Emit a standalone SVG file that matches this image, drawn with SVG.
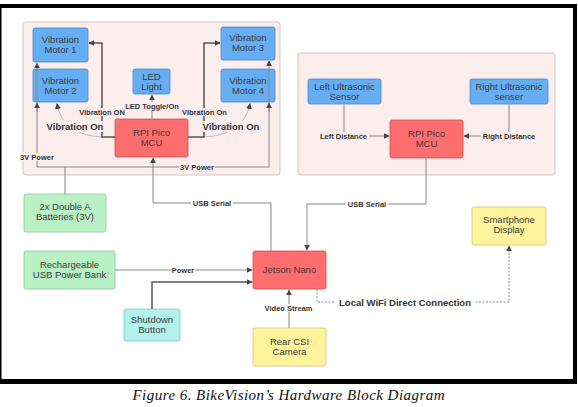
<svg xmlns="http://www.w3.org/2000/svg" width="578" height="407" viewBox="0 0 578 407">
<defs>
<marker id="arr" viewBox="0 0 10 10" refX="9" refY="5" markerWidth="6" markerHeight="6" markerUnits="userSpaceOnUse" orient="auto"><path d="M0,0 L10,5 L0,10 z" fill="#444"/></marker>
<style>
.grp{fill:#fdeeee;stroke:#d3c3c3;stroke-width:1}
.blue{fill:#66aef4;stroke:#4a86c8;stroke-width:0.8}
.red{fill:#ff6e6e;stroke:#c94e4e;stroke-width:0.8}
.green{fill:#b9f0c4;stroke:#8cc79a;stroke-width:0.8}
.cyan{fill:#b3f2ec;stroke:#86c6bf;stroke-width:0.8}
.yellow{fill:#fff49c;stroke:#cfc577;stroke-width:0.8}
.nt{font-family:"Liberation Sans",Arial,sans-serif;font-size:9.5px;fill:#3a3a3a;text-anchor:middle}
.lb{font-family:"Liberation Sans",Arial,sans-serif;font-size:7.5px;font-weight:bold;fill:#333;text-anchor:middle}
.lbb{font-family:"Liberation Sans",Arial,sans-serif;font-size:9.5px;font-weight:bold;fill:#333;text-anchor:middle}
.ln{fill:none;stroke:#888;stroke-width:1}
.lnd{fill:none;stroke:#555;stroke-width:1.5}
.lnc{fill:none;stroke:#aaa;stroke-width:0.8}
.bgp{fill:#fdeeee}
.bgw{fill:#ffffff}
</style>
</defs>
<rect x="0" y="0" width="578" height="407" fill="#fff"/>
<g id="frame" fill="#000">
<rect x="0" y="4" width="577" height="4"/>
<rect x="0" y="4" width="1.5" height="380"/>
<rect x="573" y="4" width="4" height="380"/>
<rect x="0" y="379" width="577" height="5"/>
</g>
<g id="groups">
<rect class="grp" x="23" y="22" width="257" height="153" rx="3"/>
<rect class="grp" x="298" y="53" width="257" height="122" rx="3"/>
</g>
<g id="motor1"><rect class="blue" x="33" y="28" width="55" height="34" rx="2"/><text class="nt" x="60.5" y="43">Vibration</text><text class="nt" x="60.5" y="53">Motor 1</text></g>
<g id="motor2"><rect class="blue" x="33" y="69" width="55" height="33" rx="2"/><text class="nt" x="60.5" y="84">Vibration</text><text class="nt" x="60.5" y="94">Motor 2</text></g>
<g id="led"><rect class="blue" x="133" y="69" width="37" height="25" rx="2"/><text class="nt" x="151.5" y="80">LED</text><text class="nt" x="151.5" y="90">Light</text></g>
<g id="motor3"><rect class="blue" x="221" y="27" width="54" height="33" rx="2"/><text class="nt" x="248" y="41">Vibration</text><text class="nt" x="248" y="51">Motor 3</text></g>
<g id="motor4"><rect class="blue" x="221" y="69" width="54" height="33" rx="2"/><text class="nt" x="248" y="84">Vibration</text><text class="nt" x="248" y="94">Motor 4</text></g>
<g id="mcu1"><rect class="red" x="115" y="119" width="73" height="38" rx="2"/><text class="nt" x="151.5" y="136">RPI Pico</text><text class="nt" x="151.5" y="146">MCU</text></g>
<g id="lsensor"><rect class="blue" x="308" y="79" width="73" height="25" rx="2"/><text class="nt" x="344.5" y="90">Left Ultrasonic</text><text class="nt" x="344.5" y="99.5">Sensor</text></g>
<g id="rsensor"><rect class="blue" x="470" y="79" width="78" height="25" rx="2"/><text class="nt" x="509" y="90">Right Ultrasonic</text><text class="nt" x="509" y="99.5">senser</text></g>
<g id="mcu2"><rect class="red" x="390" y="120" width="73" height="38" rx="2"/><text class="nt" x="426.5" y="137">RPI Pico</text><text class="nt" x="426.5" y="147">MCU</text></g>
<g id="batteries"><rect class="green" x="24" y="194" width="82" height="38" rx="2"/><text class="nt" x="65" y="210">2x Double A</text><text class="nt" x="65" y="220">Batteries (3V)</text></g>
<g id="powerbank"><rect class="green" x="24" y="251" width="91" height="38" rx="2"/><text class="nt" x="69.5" y="268">Rechargeable</text><text class="nt" x="69.5" y="278">USB Power Bank</text></g>
<g id="shutdown"><rect class="cyan" x="124" y="309" width="56" height="32" rx="2"/><text class="nt" x="152" y="323">Shutdown</text><text class="nt" x="152" y="333">Button</text></g>
<g id="jetson"><rect class="red" x="253" y="251" width="73" height="38" rx="2"/><text class="nt" x="289.5" y="273">Jetson Nano</text></g>
<g id="camera"><rect class="yellow" x="253" y="328" width="73" height="38" rx="2"/><text class="nt" x="289.5" y="345">Rear CSI</text><text class="nt" x="289.5" y="355">Camera</text></g>
<g id="smartphone"><rect class="yellow" x="472" y="207" width="74" height="38" rx="2"/><text class="nt" x="509" y="223">Smartphone</text><text class="nt" x="509" y="233">Display</text></g>
<g id="connectors">
<path class="lnc" d="M102,137 Q62,135 57,103.5" marker-end="url(#arr)"/>
<path class="lnc" d="M204,137 Q244,135 250,103.5" marker-end="url(#arr)"/>
<path class="lnd" d="M115,137 H102 V43 H89" marker-end="url(#arr)"/>
<path class="lnd" d="M188,137 H204 V43 H220" marker-end="url(#arr)"/>
<path class="ln" d="M152,119 V95" marker-end="url(#arr)"/>
<path class="ln" d="M65,194 V167 M37,167 H269"/>
<path class="ln" d="M37,167 V63" marker-end="url(#arr)"/>
<path class="ln" d="M37,112 V103" marker-end="url(#arr)"/>
<path class="ln" d="M269,167 V61" marker-end="url(#arr)"/>
<path class="ln" d="M269,112 V103" marker-end="url(#arr)"/>
<path class="ln" d="M271,251 V203 H153 V158" marker-end="url(#arr)"/>
<path class="ln" d="M426,158 V204 H307 V250" marker-end="url(#arr)"/>
<path class="ln" d="M344,104 V136 H389" marker-end="url(#arr)"/>
<path class="ln" d="M509,104 V136 H464" marker-end="url(#arr)"/>
<path class="ln" d="M115,270 H252" marker-end="url(#arr)"/>
<path class="lnd" d="M152,309 V282 H252" marker-end="url(#arr)"/>
<path class="ln" d="M289,328 V290" marker-end="url(#arr)"/>
<path class="ln" d="M317,289 V302 H509 V246" stroke-dasharray="2,1.5" marker-end="url(#arr)"/>
<rect class="bgp" x="77" y="108" width="50" height="8"/><text class="lb" x="102" y="115">Vibration ON</text>
<rect class="bgp" x="180" y="108" width="49" height="8"/><text class="lb" x="204.5" y="115">Vibration On</text>
<rect class="bgp" x="124" y="102" width="56" height="8"/><text class="lb" x="152" y="109">LED Toggle/On</text>
<rect class="bgp" x="45" y="121" width="60" height="11"/><text class="lbb" x="75" y="130">Vibration On</text>
<rect class="bgp" x="201" y="121" width="60" height="11"/><text class="lbb" x="231" y="130">Vibration On</text>
<rect class="bgp" x="20" y="153" width="35" height="8"/><text class="lb" x="37" y="160">3V Power</text>
<rect class="bgp" x="179" y="163" width="36" height="8"/><text class="lb" x="197" y="170">3V Power</text>
<rect class="bgp" x="318" y="132" width="51" height="8"/><text class="lb" x="343.5" y="139">Left Distance</text>
<rect class="bgp" x="481" y="132" width="56" height="8"/><text class="lb" x="509" y="139">Right Distance</text>
<rect class="bgw" x="191" y="199" width="42" height="8"/><text class="lb" x="212" y="206">USB Serial</text>
<rect class="bgw" x="346" y="200" width="42" height="8"/><text class="lb" x="367" y="207">USB Serial</text>
<rect class="bgw" x="171" y="266" width="24" height="8"/><text class="lb" x="183" y="273">Power</text>
<rect class="bgw" x="262" y="304" width="53" height="8"/><text class="lb" x="288.5" y="311">Video Stream</text>
<rect class="bgw" x="334" y="297" width="142" height="11"/><text class="lbb" x="405" y="305.5">Local WiFi Direct Connection</text>
</g>
<text x="288.5" y="400" font-family="'Liberation Serif','Times New Roman',serif" font-style="italic" font-size="15" fill="#111" text-anchor="middle" textLength="312" lengthAdjust="spacing">Figure 6. BikeVision’s Hardware Block Diagram</text>
</svg>
